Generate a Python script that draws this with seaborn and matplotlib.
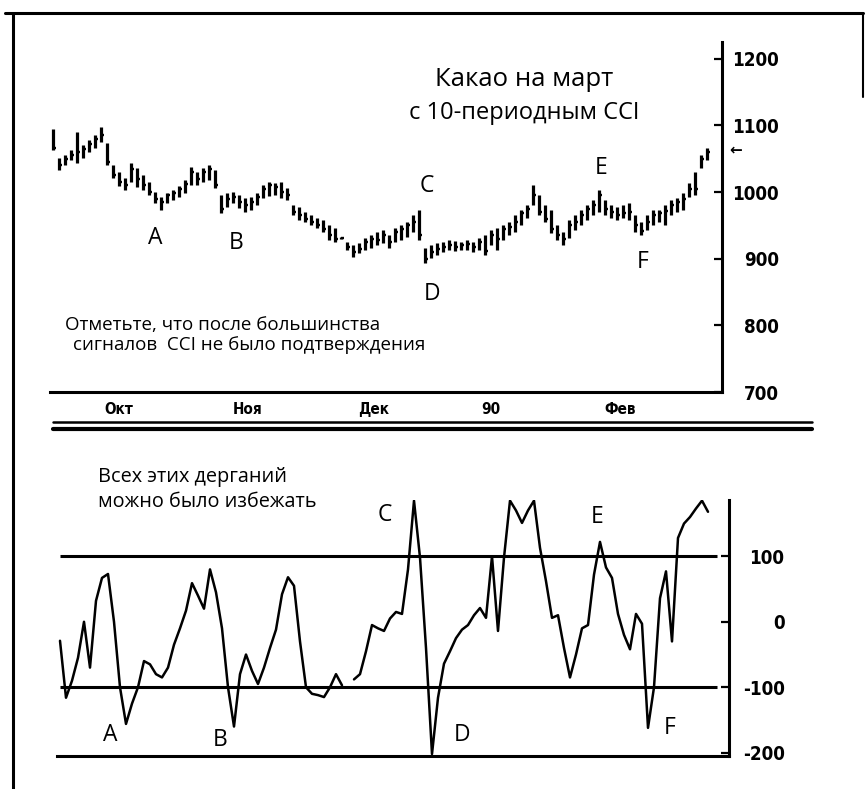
import numpy as np
import pandas as pd
import seaborn as sns
import matplotlib.pyplot as plt
from matplotlib.lines import Line2D

# daily bars for March cocoa (high / low / close)
high = [1095, 1051, 1055, 1063, 1090, 1070, 1078, 1085, 1098, 1073,
        1040, 1030, 1021, 1044, 1036, 1025, 1015, 1000, 992, 998,
        1003, 1009, 1018, 1037, 1030, 1036, 1040, 1033, 995, 998,
        1000, 995, 991, 992, 998, 1010, 1015, 1013, 1015, 1006,
        980, 977, 970, 965, 961, 958, 950, 946, 933, 925,
        920, 923, 931, 935, 940, 943, 935, 946, 950, 955,
        965, 973, 916, 920, 923, 925, 928, 926, 925, 928,
        925, 931, 935, 943, 946, 950, 955, 965, 973, 980,
        1010, 995, 980, 973, 950, 940, 958, 965, 973, 980,
        988, 1003, 988, 980, 977, 980, 983, 965, 955, 965,
        973, 973, 980, 988, 991, 998, 1013, 1030, 1055, 1066]
low = [1063, 1033, 1040, 1048, 1043, 1051, 1060, 1066, 1075, 1040,
       1021, 1009, 1003, 1015, 1008, 1003, 995, 983, 973, 983,
       988, 992, 998, 1010, 1010, 1015, 1018, 1006, 968, 977,
       983, 976, 970, 973, 980, 991, 994, 995, 991, 988,
       965, 958, 955, 950, 946, 940, 928, 925, 929, 913,
       902, 908, 913, 916, 920, 923, 916, 925, 928, 932,
       940, 928, 893, 901, 905, 910, 913, 911, 913, 913,
       910, 913, 905, 920, 913, 928, 935, 940, 950, 961,
       980, 965, 955, 938, 928, 920, 931, 943, 950, 958,
       965, 970, 965, 961, 958, 961, 958, 940, 935, 943,
       950, 955, 950, 965, 970, 973, 992, 995, 1036, 1048]
close = [1066, 1040, 1050, 1055, 1060, 1065, 1072, 1080, 1085, 1045,
         1025, 1015, 1010, 1035, 1020, 1010, 1000, 990, 985, 995,
         998, 1005, 1012, 1030, 1020, 1030, 1035, 1010, 975, 990,
         992, 985, 980, 985, 992, 1005, 1010, 1008, 1000, 995,
         970, 965, 960, 955, 950, 945, 935, 930, 931, 918,
         910, 915, 925, 930, 928, 935, 925, 940, 945, 950,
         955, 935, 900, 910, 915, 918, 920, 918, 920, 922,
         918, 925, 912, 935, 930, 945, 948, 955, 968, 975,
         995, 970, 960, 945, 935, 930, 950, 955, 965, 975,
         980, 995, 975, 970, 965, 968, 970, 950, 942, 955,
         965, 968, 972, 980, 985, 990, 1005, 1005, 1050, 1060]

# 10-period CCI, one value per day (nan = gap in the printed line)
cci = [-29, -116, -90, -55, 0, -70, 32, 67, 73, 0,
       -100, -156, -125, -100, -60, -65, -80, -85, -70, -35,
       -10, 17, 59, 40, 20, 80, 45, -10, -100, -160,
       -80, -50, -75, -95, -70, -40, -12, 42, 68, 55,
       -30, -100, -110, -112, -115, -100, -80, -97, np.nan, -88,
       -80, -45, -5, -10, -14, 5, 15, 12, 80, 185,
       98, -40, -202, -116, -64, -45, -25, -12, -5, 10,
       21, 6, 100, -14, 98, 185, 170, 151, 170, 185,
       113, 62, 6, 10, -40, -85, -50, -10, -5, 72,
       122, 83, 67, 12, -20, -42, 12, -3, -162, -100,
       36, 77, -30, 128, 150, 160, 173, 185, 168]

month_labels = ['Окт', 'Ноя', 'Дек', '90', 'Фев']
month_starts = [11, 32.5, 53.5, 73, 94.5]
price_ticks = [700, 800, 900, 1000, 1100, 1200]
cci_ticks = [-200, -100, 0, 100]
cci_levels = [-100, 100]

sns.set_style('white')
plt.rcParams['font.family'] = ['Open Sans', 'DejaVu Sans']
plt.rcParams['text.color'] = 'black'
narrow = dict(family=['Liberation Sans Narrow', 'DejaVu Sans'],
              stretch='condensed', weight='bold')

W, H = 865, 789
fig = plt.figure(figsize=(W / 100, H / 100), dpi=100)


def box(l, t, r, b):
    return [l / W, 1 - b / H, (r - l) / W, (b - t) / H]


def px(x, y):
    return x / W, 1 - y / H


ax1 = fig.add_axes(box(50, 42, 722, 392))
ax2 = fig.add_axes(box(57, 500, 729, 756))

# ---- price bars
days = np.arange(len(high))
ax1.vlines(days, low, high, color='black', lw=2.3)
ax1.hlines(close, days, days + 0.5, color='black', lw=1.7)
ax1.set_xlim(-0.5, 111.5)
ax1.set_ylim(700, 1225)

# ---- cci line
df = pd.DataFrame({'day': np.arange(len(cci)), 'cci': cci})
df['seg'] = df['cci'].isna().cumsum()
df = df.dropna()
sns.lineplot(data=df, x='day', y='cci', units='seg', estimator=None,
             color='black', lw=1.8, ax=ax2, legend=False)
ax2.hlines(cci_levels, 0, 109.5, color='black', lw=2.2)
ax2.set_xlim(-0.5, 111.5)
ax2.set_ylim(-205, 186)
ax2.set_xlabel('')
ax2.set_ylabel('')

for ax in (ax1, ax2):
    ax.set_facecolor('white')
    for s in ('top', 'left'):
        ax.spines[s].set_visible(False)
    for s in ('right', 'bottom'):
        ax.spines[s].set_linewidth(2.2)
        ax.spines[s].set_color('black')
    ax.yaxis.tick_right()
    ax.tick_params(axis='both', direction='in', length=6, width=1.6,
                   colors='black')

ax1.set_yticks(price_ticks, [str(v) for v in price_ticks])
ax1.tick_params(axis='y', pad=41)
ax1.set_xticks(month_starts, month_labels)
ax1.tick_params(axis='x', pad=7)
for lbl in ax1.get_yticklabels():
    lbl.set_horizontalalignment('right')
    lbl.update(narrow)
    lbl.set_fontsize(13.5)
for lbl in ax1.get_xticklabels():
    lbl.update(narrow)
    lbl.set_fontsize(11)

ax2.set_yticks(cci_ticks, [str(v) for v in cci_ticks])
ax2.tick_params(axis='y', pad=40)
ax2.set_xticks(month_starts, [''] * len(month_starts))
for lbl in ax2.get_yticklabels():
    lbl.set_horizontalalignment('right')
    lbl.update(narrow)
    lbl.set_fontsize(13.5)

# ---- annotations
fig.text(*px(524, 80), 'Какао на март', ha='center', va='center', fontsize=18.5)
fig.text(*px(524, 113), 'с 10-периодным CCI', ha='center', va='center', fontsize=17)
fig.text(*px(65, 325), 'Отметьте, что после большинства', ha='left', va='center', fontsize=13.5)
fig.text(*px(73, 345), 'сигналов  CCI не было подтверждения', ha='left', va='center', fontsize=13.5)
fig.text(*px(98, 477), 'Всех этих дерганий', ha='left', va='center', fontsize=14.3)
fig.text(*px(98, 502), 'можно было избежать', ha='left', va='center', fontsize=14.3)

top_marks = {'A': (155, 238), 'B': (236, 243), 'C': (427, 186),
             'D': (432, 294), 'E': (601, 168), 'F': (643, 262)}
bottom_marks = {'A': (110, 735), 'B': (220, 740), 'C': (385, 515),
                'D': (462, 735), 'E': (597, 517), 'F': (670, 728)}
for marks in (top_marks, bottom_marks):
    for name, (x, y) in marks.items():
        fig.text(*px(x, y), name, ha='center', va='center', fontsize=16.5)

fig.text(*px(736, 150), '←', ha='center', va='center', fontsize=11,
         family='DejaVu Sans', fontweight='bold')

# ---- frame and double separator
fig.add_artist(Line2D([13 / W, 13 / W], [1 - 13 / H, 0], color='black', lw=2.2))
fig.add_artist(Line2D([5 / W, 863 / W], [1 - 13 / H, 1 - 13 / H], color='black', lw=2.2))
fig.add_artist(Line2D([863 / W, 863 / W], [1 - 13 / H, 1 - 97 / H], color='black', lw=1.5))
fig.add_artist(Line2D([53 / W, 812 / W], [1 - 422 / H, 1 - 422 / H], color='black', lw=1.8))
fig.add_artist(Line2D([53 / W, 812 / W], [1 - 429 / H, 1 - 429 / H], color='black', lw=3))

plt.savefig('out.png', dpi=100, facecolor='white')
